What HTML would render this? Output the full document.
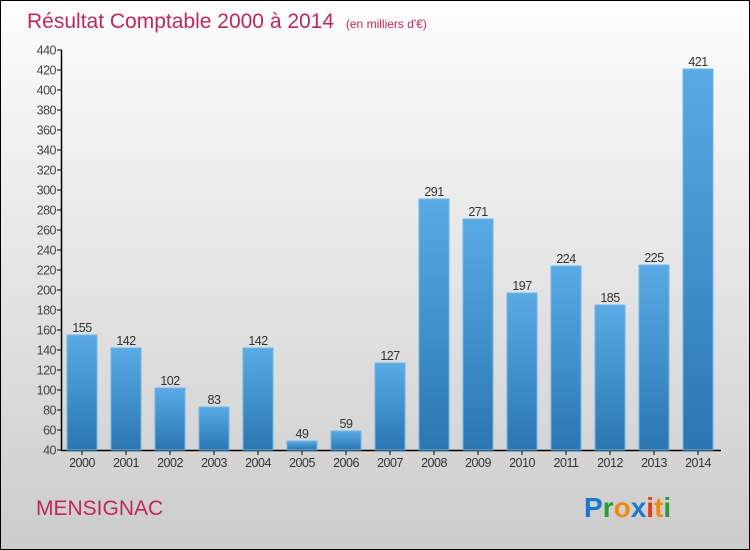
<!DOCTYPE html>
<html><head><meta charset="utf-8"><style>
body{margin:0;}
#c{position:relative;width:748px;height:548px;border:1px solid #000;background:linear-gradient(#fdfdfd,#cccccc);font-family:"Liberation Sans",sans-serif;overflow:hidden;}
</style></head><body>
<div id="c">
<svg width="748" height="548" xmlns="http://www.w3.org/2000/svg">
<defs>
<linearGradient id="bg" x1="0" y1="0" x2="0" y2="1"><stop offset="0" stop-color="#5aaae6"/><stop offset="1" stop-color="#2a76b2"/></linearGradient>
</defs>
<text x="26" y="27" font-size="21" fill="#c0285a">Résultat Comptable 2000 à 2014 <tspan font-size="12" dx="6">(en milliers d'€)</tspan></text>
<g id="axes"></g>
<g id="bars"></g>
<text x="35" y="514" font-size="21" fill="#c0285a">MENSIGNAC</text>
<g font-size="28" font-weight="bold">
<text x="583" y="516"><tspan fill="#1a78d0">P</tspan><tspan fill="#2a9a3a">r</tspan><tspan fill="#f08a10">o</tspan><tspan fill="#1a78d0">x</tspan><tspan fill="#e83a10">i</tspan><tspan fill="#f08a10">t</tspan><tspan fill="#2a9a3a">i</tspan></text>
</g>
</svg>
</div>
<script>
const years=["2000","2001","2002","2003","2004","2005","2006","2007","2008","2009","2010","2011","2012","2013","2014"];
const values=[155,142,102,83,142,49,59,127,291,271,197,224,185,225,421];
const yTicks=[40,60,80,100,120,140,160,180,200,220,240,260,280,300,320,340,360,380,400,420,440];
const NS="http://www.w3.org/2000/svg";
const y=v=>449-(v-40)*1.0;
const xc=i=>81+i*44;
function mk(t,a,p){const e=document.createElementNS(NS,t);for(const k in a)e.setAttribute(k,a[k]);p.appendChild(e);return e;}
const ax=document.getElementById('axes'),bg=document.getElementById('bars');
const yl=mk('line',{x1:60.5,x2:60.5,y1:49,y2:449.5,stroke:'#000','stroke-width':1.5},ax);


const xl=mk('line',{x1:60,x2:720,y1:449.5,y2:449.5,stroke:'#000','stroke-width':1.5},ax);


yTicks.forEach(t=>{
 mk('line',{x1:56,x2:61,y1:y(t),y2:y(t),stroke:'#000'},ax);
 const tx=mk('text',{x:55,y:y(t)+4.5,'font-size':12.5,fill:'#444','text-anchor':'end','letter-spacing':'-0.5'},ax);
 tx.textContent=t;
 
 
});
years.forEach((yr,i)=>{
 const v=values[i];
 const r=mk('rect',{x:xc(i)-15,y:y(v),width:30,height:449-y(v),fill:'url(#bg)',stroke:'#6ab8ee','stroke-width':1},bg);
 
 
 const lb=mk('text',{x:xc(i),y:y(v)-3,'font-size':12.5,fill:'#333','text-anchor':'middle','letter-spacing':'-0.5'},bg);
 lb.textContent=v;
 
 
 mk('line',{x1:xc(i),x2:xc(i),y1:449,y2:454,stroke:'#000'},ax);
 const xt=mk('text',{x:xc(i),y:466,'font-size':12.5,fill:'#333','text-anchor':'middle','letter-spacing':'-0.5'},ax);
 xt.textContent=yr;
 
 
});
</script>
</body></html>
